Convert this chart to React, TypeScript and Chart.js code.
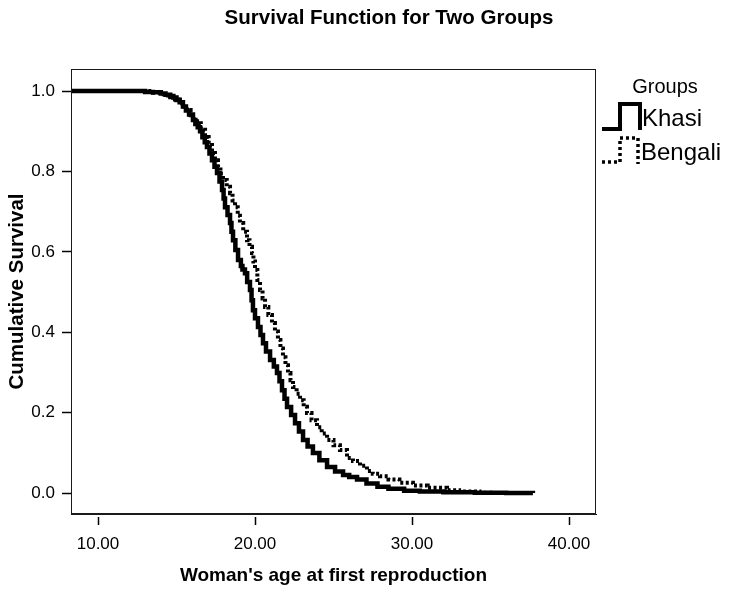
import { useEffect, useRef } from 'react';
import { Chart, registerables } from 'chart.js';

Chart.register(...registerables);

// ---- data ----
const khasiAge = [8.0, 12.5, 13.0, 13.5, 14.0, 14.3, 14.6, 14.8, 15.0, 15.2, 15.41, 15.6, 15.8, 16.05, 16.2, 16.35, 16.5, 16.65, 16.8, 16.94, 17.1, 17.26, 17.42, 17.58, 17.74, 17.9, 18.0, 18.09, 18.25, 18.41, 18.5, 18.6, 18.75, 18.92, 19.1, 19.2, 19.36, 19.5, 19.68, 19.78, 19.87, 20.0, 20.19, 20.35, 20.51, 20.7, 20.96, 21.2, 21.4, 21.56, 21.72, 21.88, 22.04, 22.3, 22.55, 22.8, 23.06, 23.35, 23.69, 24.1, 24.59, 25.1, 25.61, 26.0, 26.5, 27.1, 27.8, 28.5, 29.5, 30.5, 32.0, 34.0, 36.0, 37.7];
const khasiSurv = [1.0, 1.0, 0.998, 0.997, 0.994, 0.991, 0.988, 0.984, 0.978, 0.972, 0.962, 0.952, 0.942, 0.928, 0.918, 0.91, 0.9, 0.885, 0.873, 0.861, 0.845, 0.828, 0.812, 0.796, 0.775, 0.754, 0.733, 0.711, 0.692, 0.672, 0.65, 0.629, 0.605, 0.58, 0.565, 0.556, 0.547, 0.525, 0.505, 0.48, 0.455, 0.435, 0.413, 0.393, 0.373, 0.352, 0.331, 0.315, 0.299, 0.278, 0.256, 0.235, 0.214, 0.194, 0.174, 0.153, 0.132, 0.116, 0.1, 0.082, 0.065, 0.054, 0.045, 0.04, 0.034, 0.024, 0.016, 0.011, 0.006, 0.004, 0.002, 0.001, 0.0005, 0.0];

const bengaliAge = [9.0, 12.8, 13.5, 14.0, 14.3, 14.6, 14.9, 15.2, 15.45, 15.67, 15.9, 16.1, 16.31, 16.55, 16.82, 17.05, 17.26, 17.45, 17.64, 17.8, 17.96, 18.2, 18.41, 18.57, 18.73, 18.9, 19.04, 19.25, 19.49, 19.65, 19.81, 19.9, 20.0, 20.15, 20.32, 20.48, 20.64, 20.85, 21.08, 21.27, 21.46, 21.62, 21.78, 21.94, 22.1, 22.26, 22.42, 22.65, 22.87, 23.1, 23.31, 23.6, 23.95, 24.25, 24.59, 25.0, 25.41, 25.86, 26.24, 26.69, 27.13, 27.5, 27.96, 28.5, 29.2, 30.06, 31.0, 32.23, 33.0, 34.3, 35.0];
const bengaliSurv = [1.0, 1.0, 0.996, 0.992, 0.989, 0.985, 0.979, 0.97, 0.962, 0.953, 0.94, 0.93, 0.92, 0.904, 0.886, 0.866, 0.846, 0.828, 0.811, 0.795, 0.779, 0.762, 0.746, 0.728, 0.711, 0.69, 0.672, 0.65, 0.629, 0.613, 0.597, 0.576, 0.555, 0.53, 0.505, 0.484, 0.463, 0.443, 0.423, 0.402, 0.381, 0.36, 0.338, 0.318, 0.299, 0.281, 0.264, 0.247, 0.231, 0.215, 0.199, 0.181, 0.164, 0.148, 0.132, 0.119, 0.107, 0.087, 0.08, 0.068, 0.055, 0.048, 0.042, 0.034, 0.026, 0.019, 0.013, 0.007, 0.004, 0.001, 0.0];

const xTickValues = [10, 20, 30, 40];
const yTickValues = [0, 0.2, 0.4, 0.6, 0.8, 1.0];
const xMin = 8.28;
const xMax = 41.72;
const yMin = -0.052;
const yMax = 1.055;

const chartTitle = 'Survival Function for Two Groups';
const xAxisTitle = "Woman's age at first reproduction";
const yAxisTitle = 'Cumulative Survival';
const legendTitle = 'Groups';
const groupNames = ['Khasi', 'Bengali'];

const FONT = 'Arial, "Liberation Sans", Helvetica, sans-serif';

const decorPlugin = {
  id: 'decor',
  afterDraw(chart: any) {
    const { ctx, chartArea } = chart;
    const { left, top, right, bottom } = chartArea;
    ctx.save();
    // frame
    ctx.strokeStyle = '#1a1a1a';
    ctx.lineWidth = 1;
    ctx.strokeRect(left + 0.5, top + 0.5, right - left - 1, bottom - top - 1);
    // x tick marks (detached from axis line)
    const xs = chart.scales.x;
    ctx.lineWidth = 1.5;
    ctx.strokeStyle = '#000';
    xTickValues.forEach((v) => {
      const px = Math.round(xs.getPixelForValue(v)) + 0.5;
      ctx.beginPath();
      ctx.moveTo(px, bottom + 3);
      ctx.lineTo(px, bottom + 11);
      ctx.stroke();
    });
    // main title
    ctx.fillStyle = '#000';
    ctx.font = `bold 20.5px ${FONT}`;
    ctx.textAlign = 'center';
    ctx.textBaseline = 'middle';
    ctx.fillText(chartTitle, 389, 18);
    // legend
    ctx.font = `20px ${FONT}`;
    ctx.fillText(legendTitle, 665, 87);
    ctx.textAlign = 'left';
    ctx.font = `24px ${FONT}`;
    ctx.fillText(groupNames[0], 642, 119);
    ctx.fillText(groupNames[1], 641, 153);
    ctx.lineJoin = 'miter';
    ctx.lineCap = 'butt';
    ctx.lineWidth = 4;
    ctx.beginPath();
    ctx.moveTo(602, 129);
    ctx.lineTo(620, 129);
    ctx.lineTo(620, 104);
    ctx.lineTo(640, 104);
    ctx.lineTo(640, 130);
    ctx.stroke();
    ctx.lineWidth = 3.5;
    ctx.setLineDash([3, 3]);
    ctx.beginPath();
    ctx.moveTo(602, 162);
    ctx.lineTo(620, 162);
    ctx.lineTo(620, 138);
    ctx.lineTo(638, 138);
    ctx.lineTo(638, 164);
    ctx.stroke();
    ctx.restore();
  },
};

export default function App() {
  const canvasRef = useRef<HTMLCanvasElement | null>(null);

  useEffect(() => {
    const canvas = canvasRef.current;
    if (!canvas) return;
    Chart.defaults.font.family = FONT;
    const chart = new Chart(canvas, {
      type: 'line',
      data: {
        datasets: [
          {
            label: groupNames[1],
            data: bengaliAge.map((x, i) => ({ x, y: bengaliSurv[i] })),
            borderColor: '#000',
            borderWidth: 4,
            borderDash: [3, 2.5],
            borderCapStyle: 'butt',
            stepped: 'before',
            pointRadius: 0,
            fill: false,
          },
          {
            label: groupNames[0],
            data: khasiAge.map((x, i) => ({ x, y: khasiSurv[i] })),
            borderColor: '#000',
            borderWidth: 4.5,
            stepped: 'before',
            pointRadius: 0,
            fill: false,
          },
        ],
      },
      options: {
        responsive: false,
        animation: false,
        layout: { padding: { left: 0, top: 69, right: 133, bottom: 0 } },
        plugins: {
          legend: { display: false },
          title: { display: false },
          tooltip: { enabled: false },
        },
        scales: {
          x: {
            type: 'linear',
            min: xMin,
            max: xMax,
            afterBuildTicks: (s: any) => {
              s.ticks = xTickValues.map((v) => ({ value: v }));
            },
            afterFit: (s: any) => {
              s.height = 78;
            },
            grid: { display: true, drawOnChartArea: false, drawTicks: true, tickLength: 11, tickColor: 'rgba(0,0,0,0)' },
            border: { display: true, color: '#1a1a1a', width: 1 },
            ticks: {
              color: '#000',
              font: { size: 17 },
              padding: 9,
              maxRotation: 0,
              autoSkip: false,
              callback: (v: any) => Number(v).toFixed(2),
            },
            title: {
              display: true,
              text: xAxisTitle,
              color: '#000',
              font: { size: 19, weight: 'bold' },
              padding: 5,
            },
          },
          y: {
            type: 'linear',
            min: yMin,
            max: yMax,
            afterBuildTicks: (s: any) => {
              s.ticks = yTickValues.map((v) => ({ value: v }));
            },
            afterFit: (s: any) => {
              s.width = 71;
            },
            grid: { display: true, drawOnChartArea: false, drawTicks: true, tickLength: 9, tickColor: '#000', tickWidth: 1.5 },
            border: { display: true, color: '#1a1a1a', width: 1 },
            ticks: {
              color: '#000',
              font: { size: 17 },
              padding: 7,
              autoSkip: false,
              callback: (v: any) => Number(v).toFixed(1),
            },
            title: {
              display: true,
              text: yAxisTitle,
              color: '#000',
              font: { size: 20.5, weight: 'bold' },
              padding: 5,
            },
          },
        },
      },
      plugins: [decorPlugin],
    } as any);
    return () => chart.destroy();
  }, []);

  return (
    <div style={{ position: 'absolute', left: 0, top: 0, width: 729, height: 592, background: '#fff' }}>
      <canvas ref={canvasRef} width={729} height={592} style={{ display: 'block' }} />
    </div>
  );
}
